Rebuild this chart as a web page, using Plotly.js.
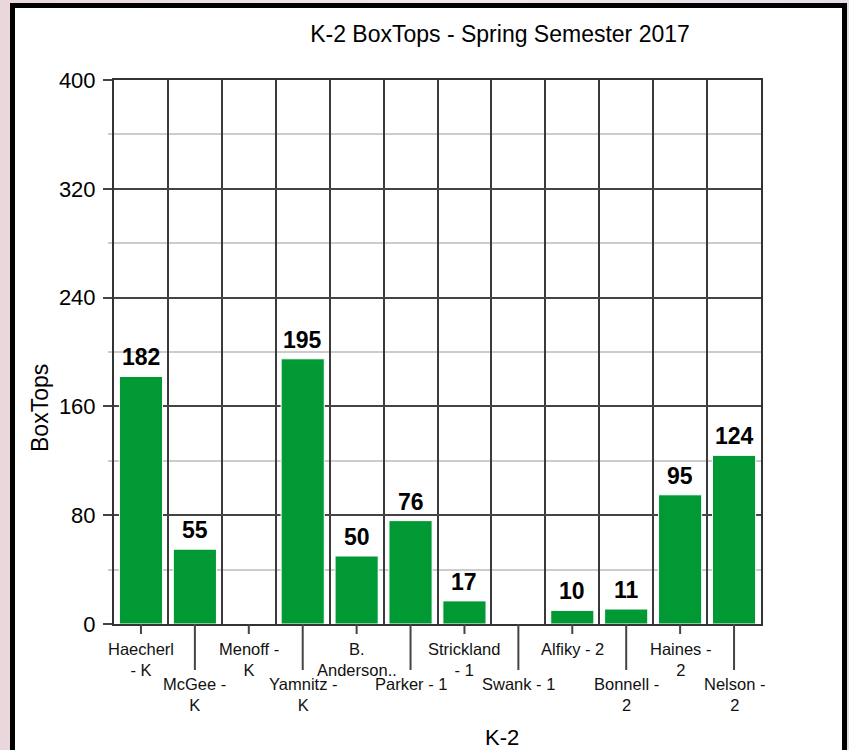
<!DOCTYPE html>
<html>
<head>
<meta charset="utf-8">
<script src="https://cdn.plot.ly/plotly-3.0.1.min.js"></script>
<style>
  html, body { margin: 0; padding: 0; width: 849px; height: 750px; overflow: hidden;
    background: linear-gradient(90deg, #e9d7dc 0%, #f1e6ea 50%, #e4dde8 100%); }
  #frame { position: absolute; left: 10px; top: 3px; width: 827px; height: 800px;
    background: #ffffff; border: 5px solid #000000; }
  #chart { position: absolute; left: 0; top: 0; width: 849px; height: 750px; }
</style>
</head>
<body>
<div id="frame"></div>
<div id="chart"></div>
<script>
// ---- data ----
const categories = ["Haecherl - K", "McGee - K", "Menoff - K", "Yamnitz - K", "B. Anderson..",
  "Parker - 1", "Strickland - 1", "Swank - 1", "Alfiky - 2", "Bonnell - 2", "Haines - 2", "Nelson - 2"];
const tickLabels = ["Haecherl<br>- K", "McGee -<br>K", "Menoff -<br>K", "Yamnitz -<br>K", "B.<br>Anderson..",
  "Parker - 1", "Strickland<br>- 1", "Swank - 1", "Alfiky - 2", "Bonnell -<br>2", "Haines -<br>2", "Nelson -<br>2"];
const boxTops = [182, 55, null, 195, 50, 76, 17, null, 10, 11, 95, 124];
const yTickValues = [0, 80, 160, 240, 320, 400];
const chartTitle = "K-2 BoxTops - Spring Semester 2017";
const xTitle = "K-2";
const yTitle = "BoxTops";

// ---- layout helpers ----
const W = 849, H = 750;
const M = { l: 114, r: 88, t: 80, b: 126 };
const plotW = W - M.l - M.r, plotH = H - M.t - M.b;
const pxToPaperY = p => (H - M.b - p) / plotH;
const pxToPaperX = p => (p - M.l) / plotW;
const FONT = "Liberation Sans, Arial, sans-serif";

const trace = {
  type: "bar",
  x: categories,
  y: boxTops,
  marker: { color: "#009933", line: { color: "#ffffff", width: 1 } },
  hoverinfo: "x+y"
};

const annotations = [];
const shapes = [];
categories.forEach((c, i) => {
  const row2 = i % 2 === 1;
  annotations.push({
    x: c, xref: "x", yref: "paper",
    y: row2 ? pxToPaperY(673) : pxToPaperY(638),
    yanchor: "top", xanchor: "center", showarrow: false,
    text: tickLabels[i], align: "center",
    font: { family: FONT, size: 16.5, color: "#111111" }
  });
  shapes.push({
    type: "line", xref: "x", yref: "paper",
    x0: c, x1: c, y0: 0, y1: row2 ? pxToPaperY(670) : pxToPaperY(634),
    line: { color: "#444444", width: 2 }
  });
  if (boxTops[i] !== null) {
    annotations.push({
      x: c, xref: "x", y: boxTops[i], yref: "y",
      yanchor: "bottom", xanchor: "center", showarrow: false, yshift: 4,
      text: String(boxTops[i]),
      font: { family: FONT, size: 23, color: "#000000", weight: "bold" }
    });
  }
});
annotations.push({
  xref: "paper", yref: "paper", x: pxToPaperX(40), y: pxToPaperY(408),
  text: yTitle, textangle: -90, showarrow: false, xanchor: "center", yanchor: "middle",
  font: { family: FONT, size: 23, color: "#000000" }
});
annotations.push({
  xref: "paper", yref: "paper", x: pxToPaperX(502), y: pxToPaperY(737),
  text: xTitle, showarrow: false, xanchor: "center", yanchor: "middle",
  font: { family: FONT, size: 22, color: "#000000" }
});

const layout = {
  width: W, height: H,
  margin: M,
  paper_bgcolor: "rgba(0,0,0,0)",
  plot_bgcolor: "#ffffff",
  showlegend: false,
  bargap: 0.2,
  title: {
    text: chartTitle, xref: "container", yref: "container",
    x: 500 / W, y: 1 - 34 / H, xanchor: "center", yanchor: "middle",
    font: { family: FONT, size: 23, color: "#000000" }
  },
  xaxis: {
    type: "category",
    categoryorder: "array", categoryarray: categories,
    tickson: "boundaries",
    showgrid: true, gridcolor: "#3a3a3a", gridwidth: 2,
    showticklabels: false, ticks: "",
    showline: true, linecolor: "#333333", linewidth: 2, mirror: true,
    zeroline: false,
    range: [-0.5, categories.length - 0.5]
  },
  yaxis: {
    range: [0, 400],
    tickvals: yTickValues,
    ticks: "outside", ticklen: 9, tickwidth: 2, tickcolor: "#444444",
    tickfont: { family: FONT, size: 22, color: "#000000" },
    ticklabelstandoff: 3,
    showgrid: true, gridcolor: "#444444", gridwidth: 2,
    showline: true, linecolor: "#333333", linewidth: 2, mirror: true,
    zeroline: false,
    minor: { dtick: 40, showgrid: true, gridcolor: "#cccccc", gridwidth: 2,
             ticks: "outside", ticklen: 4, tickcolor: "#cccccc", tickwidth: 2 }
  },
  annotations: annotations,
  shapes: shapes
};

Plotly.newPlot("chart", [trace], layout, { displayModeBar: false, staticPlot: true });
</script>
</body>
</html>
